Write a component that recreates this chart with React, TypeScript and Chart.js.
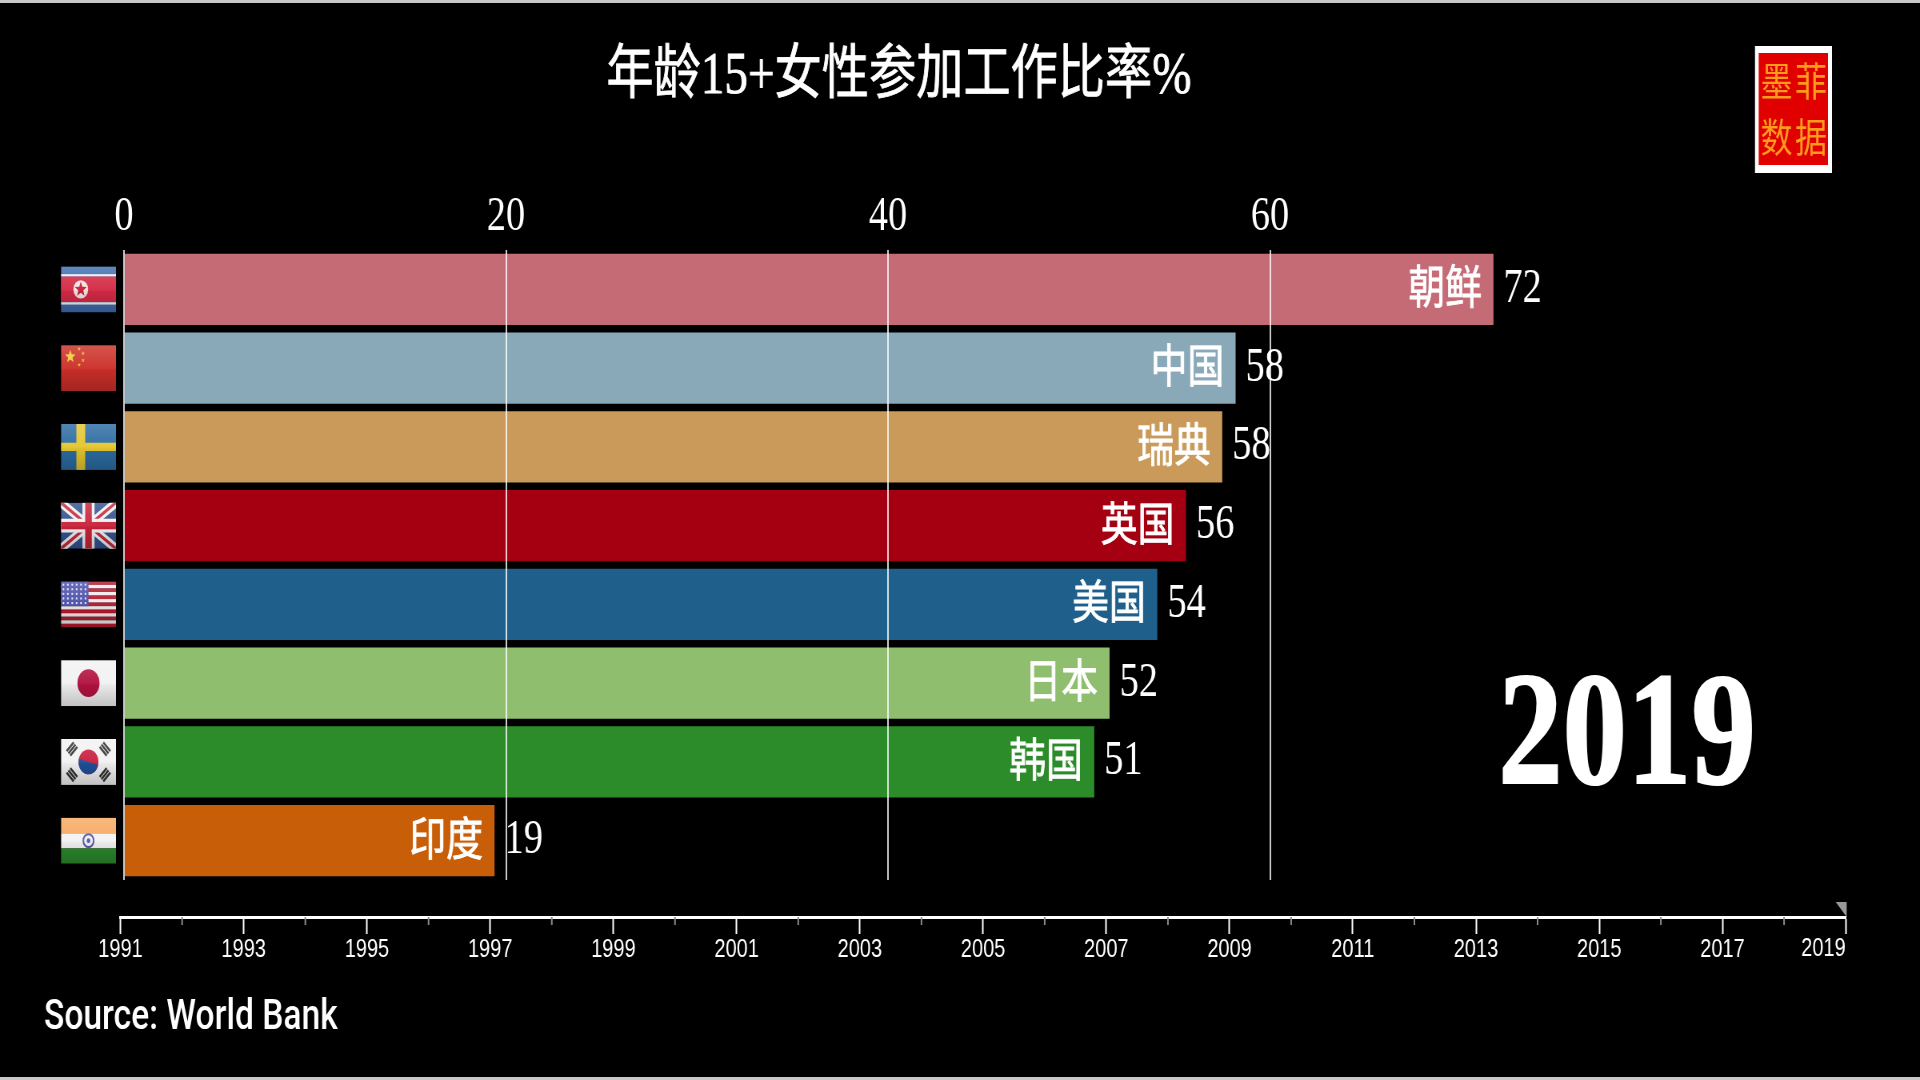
import React, { useEffect, useRef } from "react";
import { Chart, registerables } from "chart.js";

Chart.register(...registerables);

const countries = ["朝鲜", "中国", "瑞典", "英国", "美国", "日本", "韩国", "印度"];
const flagCodes = ["KP", "CN", "SE", "GB", "US", "JP", "KR", "IN"];
const participation = [71.7, 58.2, 57.5, 55.6, 54.1, 51.6, 50.8, 19.4];
const shownValues = [72, 58, 58, 56, 54, 52, 51, 19];
const barColors = ["#c56b76", "#89a8b8", "#c99a5a", "#a50012", "#1f5f8c", "#8fbe6e", "#2c8c2a", "#c85f08"];
const valueTicks = [0, 20, 40, 60];
const timelineYears = [1991, 1992, 1993, 1994, 1995, 1996, 1997, 1998, 1999, 2000, 2001, 2002, 2003, 2004, 2005, 2006, 2007, 2008, 2009, 2010, 2011, 2012, 2013, 2014, 2015, 2016, 2017, 2018, 2019];
const currentYear = 2019;
const titleText = "年龄15+女性参加工作比率%";
const sourceText = "Source: World Bank";
const logoChars = ["墨", "菲", "数", "据"];

const S = 0.8;
const X = (px: number) => px / S;
const SERIF = '"Liberation Serif", "Noto Sans CJK SC"';
const CJK = '"Noto Sans CJK SC", "Noto Sans"';
const TIMELINE_POS = 7.97;

function star(c: CanvasRenderingContext2D, x: number, y: number, r: number, col: string) {
  c.fillStyle = col;
  c.beginPath();
  for (let i = 0; i < 10; i++) {
    const a = -Math.PI / 2 + (i * Math.PI) / 5;
    const rr = i % 2 ? r * 0.42 : r;
    c.lineTo(x + rr * Math.cos(a), y + rr * Math.sin(a));
  }
  c.closePath();
  c.fill();
}

function drawFlag(c: CanvasRenderingContext2D, code: string, x: number, y: number, w: number, h: number) {
  c.save();
  c.beginPath();
  c.rect(x, y, w, h);
  c.clip();
  const band = (col: string, a: number, b: number) => {
    c.fillStyle = col;
    c.fillRect(x, y + a * h, w, (b - a) * h);
  };
  if (code === "KP") {
    band("#3f6db0", 0, 1);
    band("#f0f0f0", 0.17, 0.22);
    band("#d42a45", 0.22, 0.78);
    band("#f0f0f0", 0.78, 0.83);
    c.fillStyle = "#f4e4e4";
    c.beginPath();
    c.arc(x + w * 0.36, y + h * 0.5, h * 0.2, 0, 7);
    c.fill();
    star(c, x + w * 0.36, y + h * 0.5, h * 0.17, "#c8213a");
  } else if (code === "CN") {
    band("#cc2f28", 0, 1);
    star(c, x + w * 0.17, y + h * 0.25, h * 0.15, "#f7c93a");
    [[0.33, 0.08], [0.4, 0.18], [0.4, 0.33], [0.33, 0.43]].forEach(([a, b]) => star(c, x + w * a, y + h * b, h * 0.05, "#f0b030"));
  } else if (code === "SE") {
    band("#2c6ca3", 0, 1);
    c.fillStyle = "#e5c52e";
    c.fillRect(x + w * 0.28, y, w * 0.16, h);
    c.fillRect(x, y + h * 0.41, w, h * 0.18);
  } else if (code === "GB") {
    band("#33528f", 0, 1);
    c.lineCap = "butt";
    const diag = (col: string, lw: number) => {
      c.strokeStyle = col;
      c.lineWidth = lw;
      c.beginPath();
      c.moveTo(x, y);
      c.lineTo(x + w, y + h);
      c.moveTo(x + w, y);
      c.lineTo(x, y + h);
      c.stroke();
    };
    diag("#f0f0f0", h * 0.2);
    diag("#c52a3f", h * 0.07);
    c.fillStyle = "#f0f0f0";
    c.fillRect(x + w * 0.39, y, w * 0.22, h);
    c.fillRect(x, y + h * 0.35, w, h * 0.3);
    c.fillStyle = "#c8233a";
    c.fillRect(x + w * 0.44, y, w * 0.12, h);
    c.fillRect(x, y + h * 0.42, w, h * 0.16);
  } else if (code === "US") {
    for (let i = 0; i < 13; i++) band(i % 2 ? "#f2eaea" : "#b5182f", i / 13, (i + 1) / 13);
    c.fillStyle = "#4a4fa8";
    c.fillRect(x, y, w * 0.5, h * 0.54);
    c.fillStyle = "#e8e8ff";
    for (let r = 0; r < 5; r++) for (let q = 0; q < 6; q++) c.fillRect(x + w * (0.03 + q * 0.08), y + h * (0.05 + r * 0.1), 2, 2);
  } else if (code === "JP") {
    band("#f2f2f2", 0, 1);
    c.fillStyle = "#b2123f";
    c.beginPath();
    c.arc(x + w / 2, y + h / 2, h * 0.3, 0, 7);
    c.fill();
  } else if (code === "KR") {
    band("#f2f2f2", 0, 1);
    const cx = x + w / 2;
    const cy = y + h / 2;
    const r = h * 0.27;
    c.fillStyle = "#c8203f";
    c.beginPath();
    c.arc(cx, cy, r, 0, 7);
    c.fill();
    c.fillStyle = "#1f4f98";
    c.beginPath();
    c.arc(cx, cy, r, 0.25, Math.PI + 0.25);
    c.fill();
    c.fillStyle = "#333";
    [[-1, -1], [1, -1], [-1, 1], [1, 1]].forEach(([a, b]) => {
      c.save();
      c.translate(cx + a * w * 0.3, cy + b * h * 0.28);
      c.rotate((a * b * -Math.PI) / 4);
      for (let i = -1; i <= 1; i++) c.fillRect(-w * 0.09, i * h * 0.07 - h * 0.025, w * 0.18, h * 0.05);
      c.restore();
    });
  } else if (code === "IN") {
    band("#f7a860", 0, 0.34);
    band("#f2f2f2", 0.34, 0.67);
    band("#2a8a2c", 0.67, 1);
    c.strokeStyle = "#5a5aa8";
    c.lineWidth = 2;
    c.beginPath();
    c.arc(x + w / 2, y + h / 2, h * 0.14, 0, 7);
    c.stroke();
    c.fillStyle = "#5a5aa8";
    c.beginPath();
    c.arc(x + w / 2, y + h / 2, h * 0.05, 0, 7);
    c.fill();
  }
  const g = c.createLinearGradient(0, y, 0, y + h);
  g.addColorStop(0, "rgba(255,255,255,0.18)");
  g.addColorStop(0.5, "rgba(255,255,255,0.04)");
  g.addColorStop(0.55, "rgba(0,0,0,0.04)");
  g.addColorStop(1, "rgba(0,0,0,0.2)");
  c.fillStyle = g;
  c.fillRect(x, y, w, h);
  c.restore();
}

const overlay = {
  id: "overlay",
  afterDraw(chart: any) {
    const c: CanvasRenderingContext2D = chart.ctx;
    const yS = chart.scales.y;
    const meta = chart.getDatasetMeta(0);
    c.save();
    c.textBaseline = "middle";
    c.strokeStyle = "#fff";

    c.fillStyle = "#fff";
    c.textAlign = "center";
    c.font = `59px ${SERIF}`;
    c.lineWidth = 0.8;
    c.fillText(titleText, X(899), 77);
    c.strokeText(titleText, X(899), 77);

    countries.forEach((name, i) => {
      const cy = yS.getPixelForValue(i);
      const end = meta.data[i].x;
      drawFlag(c, flagCodes[i], X(61), cy - 23, X(55), 46);
      c.fillStyle = "#fff";
      c.textAlign = "right";
      c.font = `46px ${CJK}`;
      c.lineWidth = 0.8;
      c.fillText(name, end - X(11.5), cy - 3.5);
      c.strokeText(name, end - X(11.5), cy - 3.5);
      c.textAlign = "left";
      c.font = `48px ${SERIF}`;
      c.fillText(String(shownValues[i]), end + X(10), cy);
    });

    c.fillStyle = "#fff";
    c.lineWidth = 2;
    c.textAlign = "center";
    c.font = `bold 161px ${SERIF}`;
    c.fillText(String(currentYear), X(1627), 741);
    c.strokeText(String(currentYear), X(1627), 741);

    c.textAlign = "left";
    c.font = '500 42px "Roboto"';
    c.fillText(sourceText, X(44), 1018);

    c.fillStyle = "#fff";
    c.fillRect(X(1755), 46, X(77), 127);
    c.fillStyle = "#e00000";
    c.fillRect(X(1758.7), 53, X(69.3), 112);
    c.fillStyle = "#ff9c1e";
    c.textAlign = "center";
    c.font = `40px ${CJK}`;
    logoChars.forEach((ch, i) => {
      c.fillText(ch, X(i % 2 ? 1811 : 1776.5), i < 2 ? 81 : 137);
    });

    const t = chart.scales.x2;
    const axisY = yS.getPixelForValue(TIMELINE_POS);
    c.fillStyle = "#8a8a8a";
    timelineYears.forEach((yr) => {
      if (yr % 2 === 0) c.fillRect(t.getPixelForValue(yr) - 1, axisY, 2, 8);
    });
    c.fillStyle = "#fff";
    c.textAlign = "right";
    c.font = '25px "Liberation Sans"';
    c.fillText(String(currentYear), t.right, axisY + 32);
    const mx = t.getPixelForValue(currentYear);
    c.fillStyle = "#999";
    c.beginPath();
    c.moveTo(mx - X(10), axisY - 15);
    c.lineTo(mx + X(1), axisY - 15);
    c.lineTo(mx + X(1), axisY);
    c.closePath();
    c.fill();
    c.restore();
  },
};

export default function App() {
  const ref = useRef<HTMLCanvasElement>(null);
  useEffect(() => {
    const chart = new Chart(ref.current as HTMLCanvasElement, {
      type: "bar",
      data: {
        labels: countries,
        datasets: [
          {
            data: participation,
            backgroundColor: barColors,
            barPercentage: 1,
            categoryPercentage: 0.903,
            xAxisID: "x",
            yAxisID: "y",
          },
        ],
      },
      plugins: [overlay],
      options: {
        indexAxis: "y",
        responsive: false,
        animation: false,
        layout: { padding: { left: X(120.5), right: 2400 - X(1845.7), top: 185.6, bottom: 200 } },
        plugins: { legend: { display: false }, title: { display: false }, tooltip: { enabled: false } },
        scales: {
          x: {
            type: "linear",
            position: "top",
            min: -0.183,
            max: 90.14,
            afterBuildTicks: (s: any) => {
              s.ticks = valueTicks.map((v) => ({ value: v }));
            },
            border: { display: false },
            grid: { z: 1, color: "rgba(255,255,255,0.8)", lineWidth: 2, drawTicks: false },
            ticks: {
              color: "#fff",
              padding: 3.4,
              maxRotation: 0,
              autoSkip: false,
              font: { family: SERIF, size: 48 },
            },
          },
          x2: {
            type: "linear",
            axis: "x",
            position: { y: TIMELINE_POS },
            min: 1991,
            max: 2019,
            afterBuildTicks: (s: any) => {
              s.ticks = timelineYears.map((v) => ({ value: v }));
            },
            border: { display: true, color: "#fff", width: 3 },
            grid: {
              drawOnChartArea: false,
              tickLength: 15,
              tickWidth: 2,
              tickColor: (ctx: any) => (ctx.tick && ctx.tick.value % 2 === 1 ? "#fff" : "rgba(0,0,0,0)"),
            },
            ticks: {
              color: "#fff",
              padding: 3,
              maxRotation: 0,
              autoSkip: false,
              font: { family: '"Liberation Sans"', size: 25 },
              callback: (v: any) => (v % 2 === 1 && v !== 2019 ? String(v) : ""),
            },
          },
          y: {
            type: "category",
            display: false,
          },
        },
      },
    } as any);
    return () => chart.destroy();
  }, []);
  return (
    <div style={{ position: "fixed", left: 0, top: 0, width: 1920, height: 1080, background: "#000", overflow: "hidden" }}>
      <canvas
        ref={ref}
        width={2400}
        height={1080}
        style={{ position: "absolute", left: 0, top: 0, transform: `scaleX(${S})`, transformOrigin: "0 0" }}
      />
      <div style={{ position: "absolute", left: 0, top: 0, width: 1920, height: 2.5, background: "#c8c8c8" }} />
      <div style={{ position: "absolute", left: 0, top: 1077, width: 1920, height: 3, background: "#c8c8c8" }} />
    </div>
  );
}
